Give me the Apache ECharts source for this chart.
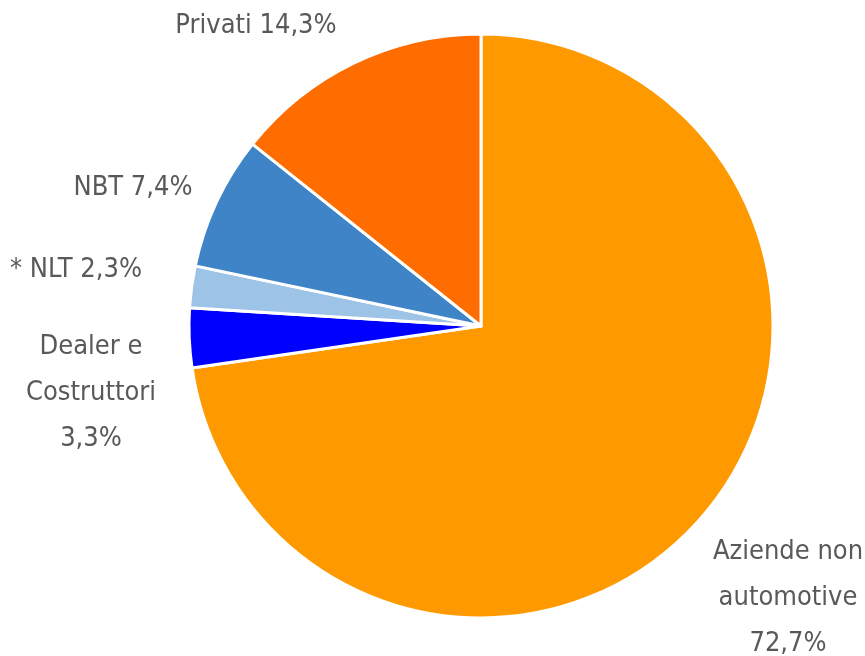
<!DOCTYPE html>
<html>
<head>
<meta charset="utf-8">
<script src="https://cdn.jsdelivr.net/npm/echarts@6/dist/echarts.min.js"></script>
<style>
  html, body { margin: 0; padding: 0; background: #fff; }
  #chart { width: 865px; height: 656px; }
</style>
</head>
<body>
<div id="chart"></div>
<script>
var categories = ['Aziende non\nautomotive', 'Dealer e\nCostruttori', '* NLT', 'NBT', 'Privati'];
var values = [72.7, 3.3, 2.3, 7.4, 14.3];
var valueLabels = ['72,7%', '3,3%', '2,3%', '7,4%', '14,3%'];
var colors = ['#FF9900', '#0000FF', '#9DC3E6', '#3E84C6', '#FF6D00'];
// label anchor points (centre of each label block)
var labelSpots = [[788, 598], [91, 393], [76, 270], [133, 188], [256, 26]];
// one-line labels join name and value with a space
var oneLine = [false, false, true, true, true];

var chart = echarts.init(document.getElementById('chart'));

var data = categories.map(function (c, i) {
    return {
        name: c,
        value: values[i],
        itemStyle: { color: colors[i] },
        label: {
            formatter: c + (oneLine[i] ? ' ' : '\n') + valueLabels[i]
        }
    };
});

var option = {
    backgroundColor: '#ffffff',
    animation: false,
    series: [
        {
            type: 'pie',
            center: [481, 326],
            radius: 292,
            startAngle: 90,
            clockwise: true,
            itemStyle: {
                borderColor: '#ffffff',
                borderWidth: 3
            },
            label: {
                show: true,
                position: 'outside',
                color: '#595959',
                fontFamily: '"DejaVu Sans Condensed", sans-serif',
                fontSize: 27,
                lineHeight: 46,
                align: 'center',
                overflow: 'none'
            },
            labelLine: { show: false },
            labelLayout: function (params) {
                var p = labelSpots[params.dataIndex];
                return {
                    x: p[0],
                    y: p[1],
                    align: 'center',
                    verticalAlign: 'middle',
                    hideOverlap: false
                };
            },
            data: data
        }
    ]
};

chart.setOption(option);
</script>
</body>
</html>
